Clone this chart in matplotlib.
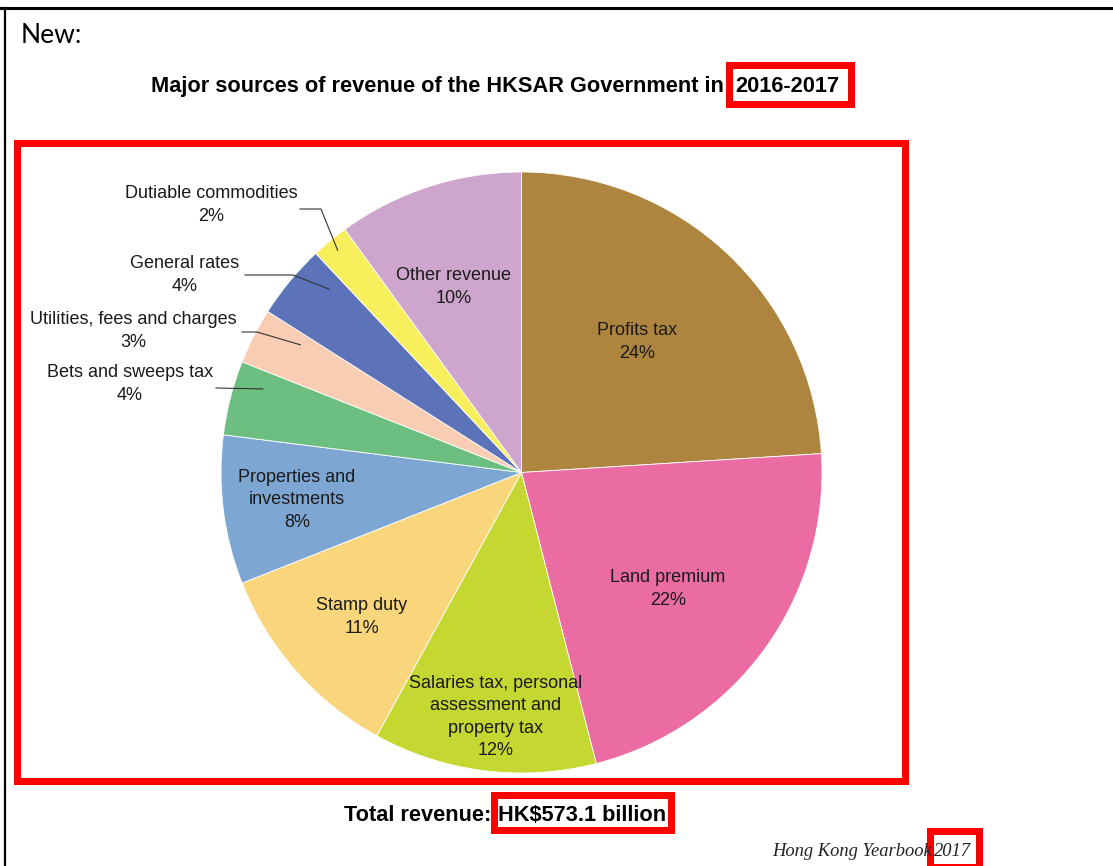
import numpy as np
import matplotlib
matplotlib.use("Agg")
import matplotlib.pyplot as plt
from matplotlib.patches import Rectangle
from matplotlib.lines import Line2D

# ---- data ----
categories = ["Profits tax", "Land premium",
              "Salaries tax, personal\nassessment and\nproperty tax",
              "Stamp duty", "Properties and\ninvestments",
              "Bets and sweeps tax", "Utilities, fees and charges",
              "General rates", "Dutiable commodities", "Other revenue"]
shares = [24, 22, 12, 11, 8, 4, 3, 4, 2, 10]
colors = ["#AE853E", "#EA6CA2", "#C5D731", "#F9D57B", "#7EA6D3",
          "#6CBF80", "#F8CDB3", "#5C73BA", "#F8EF5C", "#CDA5CD"]
title_main = "Major sources of revenue of the HKSAR Government in"
title_year = "2016-2017"
total_label = "Total revenue:"
total_value = "HK$573.1 billion"
source_label = "Hong Kong Yearbook"
source_year = "2017"

W, H = 1113, 866
fig = plt.figure(figsize=(W / 100, H / 100), dpi=100)
fig.patch.set_facecolor("white")


def fx(px):
    return px / W


def fy(py):
    return 1 - py / H


# ---- pie ----
cx, cy, R = 521.5, 472.5, 300.5
ax = fig.add_axes([fx(cx - R), fy(cy + R), 2 * R / W, 2 * R / H])
wedges, _ = ax.pie(shares, colors=colors, startangle=90, counterclock=False,
                   radius=1, wedgeprops=dict(edgecolor="white", linewidth=0.6))
ax.set_xlim(-1, 1)
ax.set_ylim(-1, 1)
ax.axis("off")

lab_font = dict(family="Liberation Sans", fontsize=13, color="#1a1a1a",
                ha="center", va="center", linespacing=1.42)

# inside label positions (pixel layout)
inside_pos = {0: (637, 342), 1: (668, 589), 2: (496, 717), 3: (362, 617),
              4: (297, 500), 9: (454, 287)}
# outside label positions, leader start/elbow and anchor radius/angle tweak
outside = {
    8: dict(pos=(211, 205), pts=[(300, 209), (321, 209)], r=0.96, da=0),
    7: dict(pos=(185, 275), pts=[(245, 275), (293, 275)], r=0.885, da=-4),
    6: dict(pos=(133, 331), pts=[(242, 332), (257, 332)], r=0.85, da=-3),
    5: dict(pos=(130, 384), pts=[(216, 388)], r=0.905, da=-3.5),
}

fig.canvas.draw()
for i, (cat, val) in enumerate(zip(categories, shares)):
    text = f"{cat}\n{val}%"
    if i in inside_pos:
        px, py = inside_pos[i]
        fig.text(fx(px), fy(py), text, **lab_font)
    else:
        o = outside[i]
        px, py = o["pos"]
        fig.text(fx(px), fy(py), text, **lab_font)
        w = wedges[i]
        mid = np.deg2rad((w.theta1 + w.theta2) / 2 + o["da"])
        ex, ey = o["r"] * np.cos(mid), o["r"] * np.sin(mid)
        dx, dy = ax.transData.transform((ex, ey))
        end = (dx, H - dy)
        pts = o["pts"] + [end]
        xs = [fx(p[0]) for p in pts]
        ys = [fy(p[1]) for p in pts]
        fig.add_artist(Line2D(xs, ys, color="#333333", lw=0.8,
                              transform=fig.transFigure))

# ---- document frame ----
fig.add_artist(Line2D([0, 1], [fy(7.5), fy(7.5)], color="black", lw=2.2,
                      transform=fig.transFigure))
fig.add_artist(Line2D([fx(5), fx(5)], [fy(7.5), 0], color="black", lw=1.6,
                      transform=fig.transFigure))

fig.text(fx(21), fy(43), "New:", family="Lato", fontsize=19,
         ha="left", va="baseline", color="black")

# title
fig.text(fx(151), fy(92), title_main, family="Liberation Sans",
         fontweight="bold", fontsize=15.7, ha="left", va="baseline")
fig.text(fx(735), fy(92), title_year, family="Liberation Sans",
         fontweight="bold", fontsize=15.7, ha="left", va="baseline")

# totals
fig.text(fx(344), fy(821), total_label, family="Liberation Sans",
         fontweight="bold", fontsize=15.7, ha="left", va="baseline")
fig.text(fx(498), fy(821), total_value, family="Liberation Sans",
         fontweight="bold", fontsize=15.7, ha="left", va="baseline")

fig.text(fx(772), fy(856), source_label, family="Liberation Serif",
         style="italic", fontsize=13.3, ha="left", va="baseline",
         color="#222222")
fig.text(fx(934), fy(856), source_year, family="Liberation Serif",
         style="italic", fontsize=13.3, ha="left", va="baseline",
         color="#222222")

# red highlight boxes (outer pixel extents)
def red_box(x0, y0, x1, y1, lw_px=7):
    h = lw_px / 2
    fig.add_artist(Rectangle((fx(x0 + h), fy(y1 - h)),
                             (x1 - x0 - lw_px) / W, (y1 - y0 - lw_px) / H,
                             fill=False, edgecolor="#FF0000",
                             lw=lw_px * 72 / 100, joinstyle="miter",
                             transform=fig.transFigure))


red_box(13, 139, 908, 784)
red_box(725, 61, 854, 107)
red_box(491, 791, 675, 833)
red_box(926, 827, 982, 870)

fig.savefig("out.png", dpi=100, facecolor="white")
